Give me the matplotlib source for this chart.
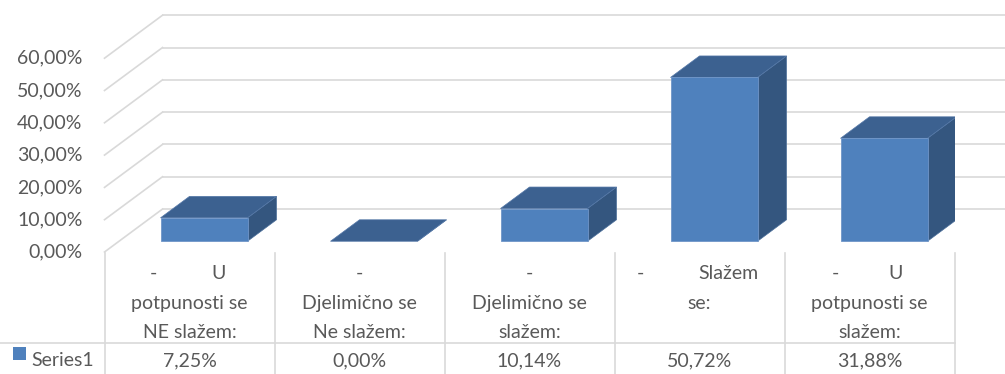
import numpy as np
import matplotlib.pyplot as plt
from matplotlib.patches import Polygon, Rectangle
from matplotlib.lines import Line2D
from matplotlib.transforms import blended_transform_factory

plt.rcParams['font.family'] = ['Lato', 'DejaVu Sans']

# survey answers (Likert scale) and their shares in percent
values = [7.25, 0.00, 10.14, 50.72, 31.88]
value_labels = ['7,25%', '0,00%', '10,14%', '50,72%', '31,88%']
# category text, one list of lines per column; first line is (left part, right part)
cat_first = [('-', 'U'), ('-', ''), ('-', ''), ('-', 'Slažem'), ('-', 'U')]
cat_rest = [['potpunosti se', 'NE slažem:'],
            ['Djelimično se', 'Ne slažem:'],
            ['Djelimično se', 'slažem:'],
            ['se:'],
            ['potpunosti se', 'slažem:']]
series_name = 'Series1'
yticks = [0, 10, 20, 30, 40, 50, 60]
ytick_labels = ['0,00%', '10,00%', '20,00%', '30,00%', '40,00%', '50,00%', '60,00%']

FRONT = '#4F81BD'
TOP = '#3C6190'
SIDE = '#34567F'
GRID = '#D9D9D9'
TXT = '#595959'
FS = 14

W, H = 1005, 374
fig = plt.figure(figsize=(W / 100, H / 100), dpi=100)

# overlay in pixel units for the data table
tab = fig.add_axes([0, 0, 1, 1])
tab.set_xlim(0, W)
tab.set_ylim(H, 0)
tab.axis('off')

# main plot, category units vs percent
ax = fig.add_axes([104.5 / W, 122 / H, 850 / W, 242.25 / H])
ax.set_xlim(-0.5, 4.5)
ax.set_ylim(0, 75)
ax.axis('off')

# oblique depth offset
DX, DY = 58 / 170, 13.3


def proj(x, v, d):
    return (x + d * DX, v + d * DY)


# walls: back gridlines + left wall diagonals
for v, lab in zip(yticks, ytick_labels):
    ax.add_line(Line2D([proj(-0.5, v, 1)[0], 5.2], [proj(-0.5, v, 1)[1]] * 2,
                       color=GRID, lw=1.2, clip_on=False, zorder=1))
    p0, p1 = proj(-0.5, v, 0), proj(-0.5, v, 1)
    ax.add_line(Line2D([p0[0], p1[0]], [p0[1], p1[1]], color=GRID, lw=1.2,
                       clip_on=False, zorder=1))
    ax.text(-0.5 - 22 / 170, v, lab, ha='right', va='center', fontsize=FS, color=TXT)

# 3d-looking columns
bw = 87 / 170
d0, d1 = 0.25, 0.75
for i, val in enumerate(values):
    x0, x1 = i - bw / 2, i + bw / 2
    top = [proj(x0, val, d0), proj(x1, val, d0), proj(x1, val, d1), proj(x0, val, d1)]
    side = [proj(x1, 0, d0), proj(x1, val, d0), proj(x1, val, d1), proj(x1, 0, d1)]
    front = [proj(x0, 0, d0), proj(x1, 0, d0), proj(x1, val, d0), proj(x0, val, d0)]
    ax.add_patch(Polygon(side, closed=True, fc=SIDE, ec='#4A6E9A', lw=0.5, zorder=3))
    ax.add_patch(Polygon(top, closed=True, fc=TOP, ec='#5578A8', lw=0.5, zorder=3))
    if val > 0:
        ax.add_patch(Polygon(front, closed=True, fc=FRONT, ec='#7096C8', lw=0.6, zorder=4))

# data table below the plot
bt = blended_transform_factory(ax.transData, tab.transData)
for c in np.arange(-0.5, 5, 1):
    tab.add_line(Line2D([c, c], [253, H + 2], color=GRID, lw=1.2, transform=bt))
x_left = ax.transData.inverted().transform(fig.transFigure.transform((0, 0)))[0]
tab.add_line(Line2D([x_left, 4.5], [343, 343], color=GRID, lw=1.2, transform=bt))

line_y = [279, 309, 338]
first_offsets = {0: (-36, 29), 3: (-59, 29), 4: (-34, 26)}
for i in range(len(values)):
    left, right = cat_first[i]
    if right:
        lo, ro = first_offsets[i]
        tab.text(i + lo / 170, line_y[0], left, ha='center', va='baseline',
                 fontsize=FS, color=TXT, transform=bt)
        tab.text(i + ro / 170, line_y[0], right, ha='center', va='baseline',
                 fontsize=FS, color=TXT, transform=bt)
    else:
        tab.text(i, line_y[0], left, ha='center', va='baseline', fontsize=FS,
                 color=TXT, transform=bt)
    for k, s in enumerate(cat_rest[i]):
        tab.text(i, line_y[k + 1], s, ha='center', va='baseline', fontsize=FS,
                 color=TXT, transform=bt)
    tab.text(i, 366, value_labels[i], ha='center', va='baseline', fontsize=FS,
             color=TXT, transform=bt)

tab.add_patch(Rectangle((13, 347), 13, 13, fc=FRONT, ec='none'))
tab.text(31, 366, series_name, ha='left', va='baseline', fontsize=FS, color=TXT)

fig.savefig('out.png', dpi=100)
